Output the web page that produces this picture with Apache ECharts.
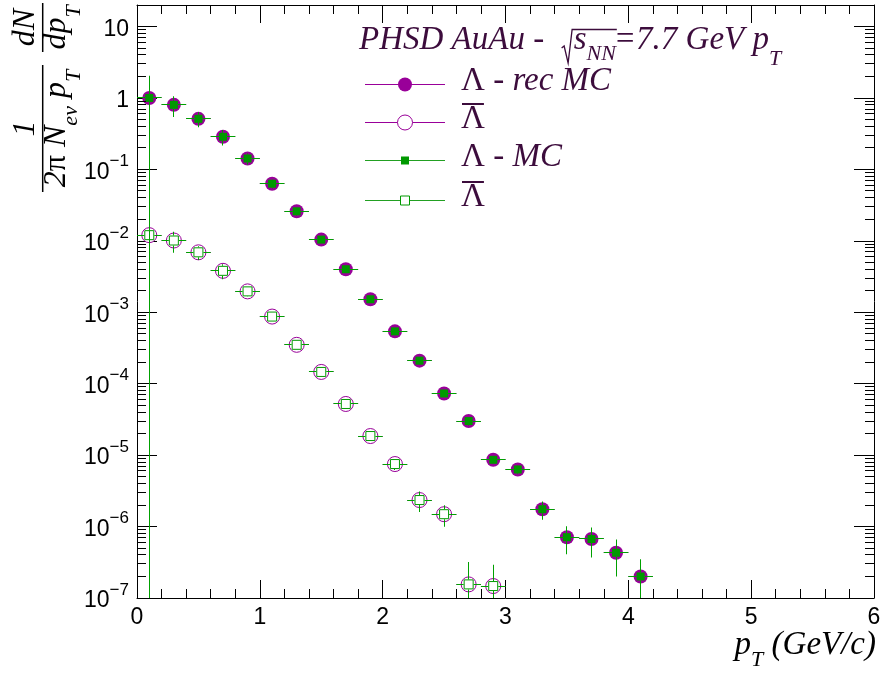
<!DOCTYPE html>
<html><head><meta charset="utf-8">
<script src="https://cdn.jsdelivr.net/npm/echarts@6/dist/echarts.min.js"></script>
<style>html,body{margin:0;padding:0;background:#fff}#c{width:880px;height:679px}</style>
</head><body><div id="c"></div>
<script>
// ---------------- data ----------------
const pT = [0.1,0.3,0.5,0.7,0.9,1.1,1.3,1.5,1.7,1.9,2.1,2.3,2.5,2.7,2.9,3.1,3.3,3.5,3.7,3.9,4.1];
const lambdaRecMC = [1.0,0.80,0.51,0.286,0.142,0.063,0.0259,0.0104,0.0040,0.00152,0.00054,0.00021,7.3e-5,3.0e-5,8.6e-6,6.3e-6,1.75e-6,7.1e-7,6.7e-7,4.3e-7,2.0e-7];
const lambdaRecMCErr = [0.9,0.2,0.09,0.05,0.02,0.008,0.003,0.001,0.0004,0.00015,0.00005,0.00002,7e-6,3e-6,1e-6,8e-7,4e-7,2.5e-7,2.5e-7,2e-7,1.2e-7];
const lambdaMC = [1.0,0.80,0.51,0.286,0.142,0.063,0.0259,0.0104,0.0040,0.00152,0.00054,0.00021,7.3e-5,3.0e-5,8.6e-6,6.3e-6,1.75e-6,7.1e-7,6.7e-7,4.3e-7,2.0e-7];
const lambdaMCErr = [1.05,0.26,0.12,0.07,0.025,0.009,0.0035,0.0012,0.00045,0.00017,0.00006,0.000025,9e-6,4e-6,1.0e-6,0.9e-6,5e-7,3e-7,3e-7,2.3e-7,1.5e-7];

const pTAnti = [0.1,0.3,0.5,0.7,0.9,1.1,1.3,1.5,1.7,1.9,2.1,2.3,2.5,2.7,2.9];
const antiLambdaRecMC = [0.0120,0.0101,0.0069,0.0038,0.00196,0.00087,0.00035,0.000146,5.2e-5,1.85e-5,7.5e-6,2.35e-6,1.49e-6,1.55e-7,1.47e-7];
const antiLambdaRecMCErr = [0.0015,0.0025,0.0012,0.0006,0.00025,0.0001,0.00004,0.000015,6e-6,2e-6,1e-6,6e-7,4e-7,1.4e-7,1.3e-7];
const antiLambdaMC = [0.0120,0.0101,0.0069,0.0038,0.00196,0.00087,0.00035,0.000146,5.2e-5,1.85e-5,7.5e-6,2.35e-6,1.49e-6,1.55e-7,1.47e-7];
const antiLambdaMCErr = [0.002,0.0033,0.0015,0.0009,0.0003,0.00012,0.00005,0.00002,7e-6,2.5e-6,1.3e-6,7.5e-7,5e-7,1.65e-7,1.45e-7];

const binHalfWidth = 0.1;
const xTickLabels = ['0','1','2','3','4','5','6'];
const X_MIN = 0, X_MAX = 6;
const Y_MIN = 1e-7, Y_MAX = 20;
const yMinorMultipliers = [2,3,4,5,6,7,8,9];
const yDecadeExponents = [-7,-6,-5,-4,-3,-2,-1,0,1];

// ---------------- styles ----------------
const PURPLE = '#990099', GREEN = '#009900', GREEN_LINE = '#00a000', TXTP = '#3c0c3c';
const SERIF = '"Liberation Serif","Times New Roman",serif';
const SANS = '"Liberation Sans",Arial,sans-serif';
const FS = 33, FSS = 22;
const measureCtx = document.createElement('canvas').getContext('2d');
function fnt(size, italic){ return (italic ? 'italic ' : '') + size + 'px ' + SERIF; }
function tw(str, font){ measureCtx.font = font; return measureCtx.measureText(str).width; }
function txt(x, base, str, size, italic, color){
  return {type:'text', x:x, y:base - 0.34*size, silent:true,
    style:{text:str, font:fnt(size, italic), fill:color, align:'left', verticalAlign:'middle'}};
}
function run(x, base, pieces, color){
  const out = []; let cx = x;
  pieces.forEach(p => { out.push(txt(cx, base + (p[3]||0), p[0], p[1], p[2], color)); cx += tw(p[0], fnt(p[1], p[2])); });
  return {els: out, end: cx};
}
function runWidth(pieces){ return pieces.reduce((s,p)=>s + tw(p[0], fnt(p[1],p[2])), 0); }
function hl(x1, x2, y, color, lw){ return {type:'line', silent:true, shape:{x1:x1,y1:y,x2:x2,y2:y}, style:{stroke:color, lineWidth:lw||1}}; }
const px = v => Math.round(v - 0.5) + 0.5;

const graphics = [];
// title with a drawn radical sign
(function(){
  const r1 = run(359, 52, [['PHSD AuAu -  ',FS,true]], TXTP);
  graphics.push(...r1.els);
  const x0 = r1.end + 1;
  const r2 = run(x0 + 12, 52, [['s',FS,true],['NN',FSS,true,10]], TXTP);
  graphics.push(...r2.els);
  graphics.push({type:'polyline', silent:true,
    shape:{points:[[x0, 48],[x0 + 2.5, 46],[x0 + 6.5, 63],[x0 + 10.5, 29.5],[r2.end + 1, 29.5]]},
    style:{stroke:TXTP, lineWidth:1.3, fill:null}});
  const r3 = run(r2.end - 2, 52, [['=7.7 GeV p',FS,true],['T',FSS,true,15]], TXTP);
  graphics.push(...r3.els);
})();
// legend
const legendRows = [84,122,160,200];
(function(){
  const lx1 = 365, lx2 = 445, mx = 405, tx = 461;
  const cols = [PURPLE, PURPLE, '#22a022', '#22a022'];
  legendRows.forEach((ry, i) => {
    const y = ry + 0.5;
    graphics.push(hl(lx1, lx2, y, cols[i], 1));
    if (i === 0) graphics.push({type:'circle', silent:true, shape:{cx:mx, cy:y, r:7}, style:{fill:PURPLE}});
    if (i === 1) graphics.push({type:'circle', silent:true, shape:{cx:mx, cy:y, r:7.5}, style:{fill:'#fff', stroke:PURPLE, lineWidth:1}});
    if (i === 2) graphics.push({type:'rect', silent:true, shape:{x:mx-4, y:y-4, width:8, height:8}, style:{fill:GREEN}});
    if (i === 3) graphics.push({type:'rect', silent:true, shape:{x:mx-4.5, y:y-4.5, width:9, height:9}, style:{fill:'#fff', stroke:GREEN, lineWidth:1}});
    const base = ry + 9;
    const pieces = [['\u039B',FS,false]];
    if (i === 0) pieces.push([' - rec MC',FS,true]);
    if (i === 2) pieces.push([' - MC',FS,true]);
    graphics.push(...run(tx, base, pieces, TXTP).els);
    if (i === 1 || i === 3) {
      const wl = tw('\u039B', fnt(FS,false));
      graphics.push(hl(tx + 1, tx + wl - 1, base - 27, TXTP, 2));
    }
  });
})();
// x axis title
(function(){
  const pieces = [['p',FS,true],['T',FSS,true,11],[' (GeV/c)',FS,true]];
  const w = runWidth(pieces);
  graphics.push(...run(876 - w, 657, pieces, '#000').els);
})();
// y axis title (rotated, reads bottom to top)
(function(){
  const ch = [];
  const F = 32, FsubY = 22;
  function frac(u1, u2, num, den){
    ch.push({type:'rect', silent:true, shape:{x:u1, y:-0.75, width:u2-u1, height:1.5}, style:{fill:'#000'}});
    const c = (u1+u2)/2;
    const wn = runWidth(num), wd = runWidth(den);
    ch.push(...run(c - wn/2, -6, num, '#000').els);
    ch.push(...run(c - wd/2, 25, den, '#000').els);
  }
  frac(0, 127, [['1',F,true]], [['2',F,true],['\u03C0',F,false],[' N',F,true],['ev',FsubY,true,11],[' p',F,true],['T',FsubY,true,14]]);
  frac(140, 189, [['dN',F,true]], [['dp',F,true],['T',FsubY,true,14]]);
  graphics.push({type:'group', x:42.7, y:192, rotation:Math.PI/2, children:ch});
})();

// ---------------- series ----------------
function markSeries(xs, ys, marker, z){
  return {type:'custom', z:z, silent:true, clip:false, xAxisIndex:0, yAxisIndex:0,
    data: xs.map((x,i)=>[x, ys[i]]),
    renderItem: function(params, api){
      const c = api.coord([api.value(0), api.value(1)]);
      const s = marker.size;
      if (marker.shape === 'circle')
        return {type:'circle', shape:{cx:c[0], cy:c[1], r:s/2}, style:{fill:marker.fill, stroke:marker.stroke||null, lineWidth:1}};
      return {type:'rect', shape:{x:c[0]-s/2, y:c[1]-s/2, width:s, height:s}, style:{fill:marker.fill, stroke:marker.stroke||null, lineWidth:1}};
    }};
}
const minorVals = [];
yDecadeExponents.forEach(e => yMinorMultipliers.forEach(m => { const v = m*Math.pow(10,e); if (v < Y_MAX) minorVals.push(v); }));
const minorTickSeries = {type:'custom', z:6, silent:true, clip:false, xAxisIndex:0, yAxisIndex:0,
  data: minorVals.map(v => [X_MIN, v]),
  renderItem: function(params, api){
    const cs = params.coordSys;
    const y = px(api.coord([X_MIN, api.value(1)])[1]);
    const xl = cs.x, xr = cs.x + cs.width;
    return {type:'group', children:[
      {type:'line', shape:{x1:xl, y1:y, x2:xl+9, y2:y}, style:{stroke:'#000', lineWidth:1}},
      {type:'line', shape:{x1:xr-9, y1:y, x2:xr, y2:y}, style:{stroke:'#000', lineWidth:1}}
    ]};
  }};

const axLine = {show:true, onZero:false, lineStyle:{color:'#000', width:1}};
function xAx(pos, labels){
  return {type:'value', min:X_MIN, max:X_MAX, interval:1, position:pos,
    axisLine:axLine, splitLine:{show:false},
    axisTick:{show:true, inside:true, length:18, lineStyle:{color:'#000', width:1}},
    minorTick:{show:true, splitNumber:5, length:9, lineStyle:{color:'#000', width:1}},
    minorSplitLine:{show:false},
    axisLabel:{show:labels, margin:8, fontFamily:SANS, fontSize:23, color:'#000',
      formatter: v => xTickLabels[Math.round(v)]}};
}
function yAx(pos, labels){
  return {type:'log', logBase:10, min:Y_MIN, max:Y_MAX, position:pos,
    axisLine:axLine, splitLine:{show:false},
    axisTick:{show:true, inside:true, length:20, lineStyle:{color:'#000', width:1}},
    minorTick:{show:false},
    axisLabel:{show:labels, margin:8, showMaxLabel:false, color:'#000',
      formatter: function(v){
        const e = Math.round(Math.log10(v));
        if (e === 0) return '{b|1}';
        if (e === 1) return '{b|10}';
        return '{b|10}{e|' + (e < 0 ? '\u2212' + (-e) : e) + '}';
      },
      rich:{ b:{fontFamily:SANS, fontSize:23, color:'#000', padding:[8,0,0,0]},
             e:{fontFamily:SANS, fontSize:17, color:'#000', verticalAlign:'top'} },
      padding:[0,0,2,0]}};
}

const option = {
  animation:false,
  backgroundColor:'#fff',
  grid:{left:137, right:6, top:5, bottom:81, containLabel:false, outerBoundsMode:'none'},
  xAxis:[xAx('bottom', true), xAx('top', false)],
  yAxis:[yAx('left', true), yAx('right', false)],
  series:[
    markSeries(pT, lambdaRecMC, {shape:'circle', size:14, fill:PURPLE}, 2),
    markSeries(pTAnti, antiLambdaRecMC, {shape:'circle', size:15, fill:'#fff', stroke:PURPLE}, 2),
    markSeries(pT, lambdaMC, {shape:'rect', size:8, fill:GREEN}, 3),
    markSeries(pTAnti, antiLambdaMC, {shape:'rect', size:9, fill:'#fff', stroke:GREEN}, 3),
    minorTickSeries
  ],
  graphic: graphics
};
const chart = echarts.init(document.getElementById('c'), null, {renderer:'canvas'});
chart.setOption(option);

// error bars: pixel positions come from the chart's own axes (convertToPixel);
// ROOT style, each bar leaves a gap where its marker sits
function errGraphics(xs, ys, errs, color, gap, z){
  const finder = {xAxisIndex:0, yAxisIndex:0};
  const conv = v => chart.convertToPixel(finder, v);
  const bottom = conv([X_MIN, Y_MIN])[1], top = conv([X_MIN, Y_MAX])[1];
  const els = [];
  const add = (x0, y0, w, h) => { if (w > 0 && h > 0) els.push({type:'rect', silent:true, z:z, shape:{x:x0, y:y0, width:w, height:h}, style:{fill:color}}); };
  xs.forEach((x, i) => {
    const y = ys[i], e = errs[i];
    const c = conv([x, y]);
    const l = conv([x - binHalfWidth, y])[0];
    const r = conv([x + binHalfWidth, y])[0];
    const tY = Math.max(conv([x, Math.min(y + e, Y_MAX)])[1], top);
    const lo = y - e;
    const bY = lo > Y_MIN ? conv([x, lo])[1] : bottom;
    const fx = Math.floor(c[0]), fy = Math.floor(c[1]);
    add(l, fy, (c[0] - gap) - l, 1);
    add(c[0] + gap, fy, r - (c[0] + gap), 1);
    add(fx, tY, 1, (c[1] - gap) - tY);
    add(fx, c[1] + gap, 1, bY - (c[1] + gap));
  });
  return els;
}
const errEls = [].concat(
  errGraphics(pT, lambdaRecMC, lambdaRecMCErr, PURPLE, 7, 50),
  errGraphics(pTAnti, antiLambdaRecMC, antiLambdaRecMCErr, PURPLE, 8, 50),
  errGraphics(pT, lambdaMC, lambdaMCErr, GREEN_LINE, 4, 51),
  errGraphics(pTAnti, antiLambdaMC, antiLambdaMCErr, GREEN_LINE, 5, 51)
);
chart.setOption({graphic: graphics.concat(errEls)});
</script></body></html>
